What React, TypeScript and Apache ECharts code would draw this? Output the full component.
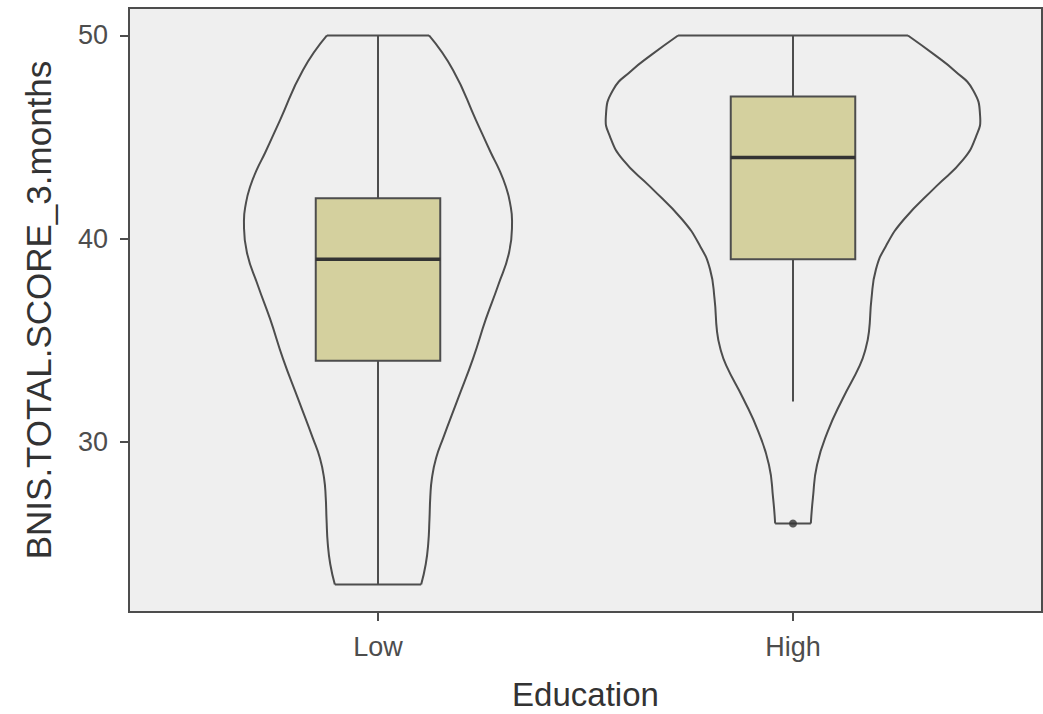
import React, { useEffect, useRef } from "react";
import * as echarts from "echarts";

const categories = ["Low", "High"];
const yTicks = [30, 40, 50];

// Violin outlines: y values (bottom -> top) and half-widths in x-axis units
const lowViolinY = [23.0, 24.0, 25.0, 26.2, 27.3, 28.24, 29.22, 30.2, 32.15, 34.11, 36.06, 37.68, 39.34, 40.81, 41.78, 42.57, 43.4, 44.23, 45.84, 48.29, 50.0];
const lowViolinHalfWidth = [0.104, 0.115, 0.121, 0.124, 0.126, 0.130, 0.140, 0.157, 0.193, 0.229, 0.260, 0.289, 0.316, 0.323, 0.318, 0.308, 0.292, 0.272, 0.236, 0.181, 0.123];
const highViolinY = [26.0, 27.26, 28.89, 30.54, 32.15, 33.78, 34.6, 35.43, 37.04, 38.51, 39.65, 40.95, 42.58, 43.89, 45.03, 46.0, 47.31, 48.29, 49.02, 50.0];
const highViolinHalfWidth = [0.043, 0.048, 0.058, 0.084, 0.120, 0.161, 0.175, 0.183, 0.189, 0.200, 0.224, 0.267, 0.345, 0.410, 0.441, 0.451, 0.434, 0.388, 0.343, 0.277];

// Box plot statistics per category
const lowerWhisker = [23, 32];
const q1 = [34, 39];
const median = [39, 44];
const q3 = [42, 47];
const upperWhisker = [50, 50];
const outliers = [[2, 26]];

const violinYs = [lowViolinY, highViolinY];
const violinHWs = [lowViolinHalfWidth, highViolinHalfWidth];

const LINE = "#4d4d4d";
const FONT = "'Liberation Sans', Arial, sans-serif";

export default function App() {
  const ref = useRef<HTMLDivElement>(null);
  useEffect(() => {
    if (!ref.current) return;
    const chart = echarts.init(ref.current, undefined, { renderer: "svg" });
    const option: any = {
      animation: false,
      backgroundColor: "#ffffff",
      grid: {
        left: 129,
        right: 1,
        top: 8,
        bottom: 102,
        show: true,
        backgroundColor: "#efefef",
        borderColor: LINE,
        borderWidth: 2,
      },
      xAxis: {
        type: "value",
        min: 0.4,
        max: 2.6,
        splitLine: { show: false },
        axisLine: { show: true, lineStyle: { color: LINE, width: 2 } },
        axisTick: { show: true, customValues: [1, 2], length: 9, lineStyle: { color: LINE, width: 2 } },
        axisLabel: {
          customValues: [1, 2],
          formatter: (v: number) => categories[Math.round(v) - 1] ?? "",
          margin: 21,
          fontSize: 27,
          fontFamily: FONT,
          color: "#4d4d4d",
        },
      },
      yAxis: {
        type: "value",
        min: 21.65,
        max: 51.35,
        splitLine: { show: false },
        axisLine: { show: true, lineStyle: { color: LINE, width: 2 } },
        axisTick: { show: true, customValues: yTicks, length: 9, lineStyle: { color: LINE, width: 2 } },
        axisLabel: {
          customValues: yTicks,
          margin: 21,
          fontSize: 27,
          fontFamily: FONT,
          color: "#4d4d4d",
        },
      },
      graphic: [
        {
          type: "text",
          x: 38,
          y: 310,
          rotation: Math.PI / 2,
          style: {
            text: "BNIS.TOTAL.SCORE_3.months",
            fontSize: 35,
            fontFamily: FONT,
            fill: "#333333",
            align: "center",
            verticalAlign: "middle",
          },
        },
        {
          type: "text",
          x: 585.5,
          y: 694,
          style: {
            text: "Education",
            fontSize: 33,
            fontFamily: FONT,
            fill: "#333333",
            align: "center",
            verticalAlign: "middle",
          },
        },
      ],
      series: [
        {
          type: "custom",
          name: "violin",
          data: [[1], [2]],
          z: 2,
          renderItem: (params: any, api: any) => {
            const i = params.dataIndex;
            const cx = api.value(0);
            const ys = violinYs[i];
            const hws = violinHWs[i];
            const left = ys.map((y, k) => api.coord([cx - hws[k], y]));
            const right = ys.map((y, k) => api.coord([cx + hws[k], y])).reverse();
            const n = ys.length;
            const style = { fill: "none", stroke: LINE, lineWidth: 2 };
            return {
              type: "group",
              children: [
                { type: "polyline", shape: { points: left, smooth: 0.5 }, style },
                { type: "polyline", shape: { points: right, smooth: 0.5 }, style },
                {
                  type: "line",
                  shape: { x1: left[n - 1][0], y1: left[n - 1][1], x2: right[0][0], y2: right[0][1] },
                  style,
                },
                {
                  type: "line",
                  shape: { x1: left[0][0], y1: left[0][1], x2: right[n - 1][0], y2: right[n - 1][1] },
                  style,
                },
              ],
            };
          },
        },
        {
          type: "custom",
          name: "box",
          data: [[1], [2]],
          z: 3,
          renderItem: (params: any, api: any) => {
            const i = params.dataIndex;
            const cx = api.value(0);
            const bw = 0.15;
            const pLo = api.coord([cx, lowerWhisker[i]]);
            const pHi = api.coord([cx, upperWhisker[i]]);
            const tl = api.coord([cx - bw, q3[i]]);
            const br = api.coord([cx + bw, q1[i]]);
            const mL = api.coord([cx - bw, median[i]]);
            const mR = api.coord([cx + bw, median[i]]);
            const lineStyle = { stroke: LINE, lineWidth: 2 };
            return {
              type: "group",
              children: [
                { type: "line", shape: { x1: pHi[0], y1: pHi[1], x2: pHi[0], y2: tl[1] }, style: lineStyle },
                { type: "line", shape: { x1: pLo[0], y1: pLo[1], x2: pLo[0], y2: br[1] }, style: lineStyle },
                {
                  type: "rect",
                  shape: { x: tl[0], y: tl[1], width: br[0] - tl[0], height: br[1] - tl[1] },
                  style: { fill: "#d4d09e", stroke: LINE, lineWidth: 2 },
                },
                {
                  type: "line",
                  shape: { x1: mL[0], y1: mL[1], x2: mR[0], y2: mR[1] },
                  style: { stroke: "#333333", lineWidth: 3.5 },
                },
              ],
            };
          },
        },
        {
          type: "scatter",
          name: "outliers",
          data: outliers,
          z: 4,
          symbol: "circle",
          symbolSize: 8,
          itemStyle: { color: "#333333" },
        },
      ],
    };
    chart.setOption(option);
    return () => chart.dispose();
  }, []);
  return (
    <div
      ref={ref}
      style={{ position: "fixed", left: 0, top: 0, width: 1043, height: 714 }}
    />
  );
}
